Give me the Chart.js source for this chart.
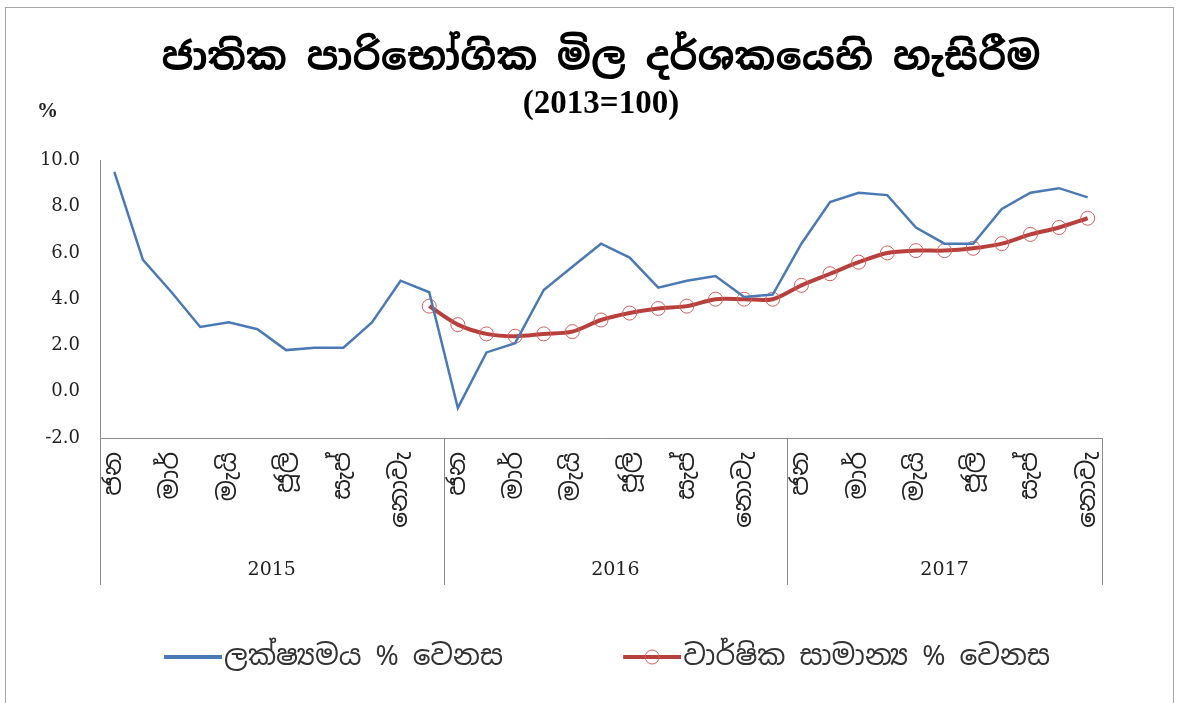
<!DOCTYPE html>
<html>
<head>
<meta charset="utf-8">
<script src="https://cdn.jsdelivr.net/npm/chart.js@4.4.1/dist/chart.umd.min.js"></script>
<style>
    html, body { margin: 0; padding: 0; background: #fff; }
    #wrap { position: relative; width: 1183px; height: 703px; }
</style>
</head>
<body>
<div id="wrap"><canvas id="ccpiChart"></canvas></div>
<script>
// Jan 2015 - Nov 2017
const months = [
    "ජන", "පෙබ", "මාර්", "අප්‍රේ", "මැයි", "ජූනි", "ජූලි", "අගෝ", "සැප්", "ඔක්", "නොවැ", "දෙසැ",
    "ජන", "පෙබ", "මාර්", "අප්‍රේ", "මැයි", "ජූනි", "ජූලි", "අගෝ", "සැප්", "ඔක්", "නොවැ", "දෙසැ",
    "ජන", "පෙබ", "මාර්", "අප්‍රේ", "මැයි", "ජූනි", "ජූලි", "අගෝ", "සැප්", "ඔක්", "නොවැ"
];
const years = ["2015", "2016", "2017"];
const monthsPerYear = [12, 12, 11];

const pointChange = [
    9.5, 5.7, 4.3, 2.8, 3.0, 2.7, 1.8, 1.9, 1.9, 3.0, 4.8, 4.3,
    -0.7, 1.7, 2.1, 4.4, 5.4, 6.4, 5.8, 4.5, 4.8, 5.0, 4.1, 4.2,
    6.4, 8.2, 8.6, 8.5, 7.1, 6.4, 6.4, 7.9, 8.6, 8.8, 8.4
];
const annualAverage = [
    null, null, null, null, null, null, null, null, null, null, null, 3.7,
    2.9, 2.5, 2.4, 2.5, 2.6, 3.1, 3.4, 3.6, 3.7, 4.0, 4.0, 4.0,
    4.6, 5.1, 5.6, 6.0, 6.1, 6.1, 6.2, 6.4, 6.8, 7.1, 7.5
];

const seriesNames = ["ලක්ෂ්‍යමය % වෙනස", "වාර්ෂික සාමාන්‍ය % වෙනස"];
const titleText = "ජාතික පාරිභෝගික මිල දර්ශකයෙහි හැසිරීම";
const subtitleText = "(2013=100)";

const sinhala = "'Noto Sans Sinhala', 'Iskoola Pota', 'Noto Sans', sans-serif";
const serif = "'Liberation Serif', 'Times New Roman', serif";
const wideSerif = "'DejaVu Serif', 'Liberation Serif', serif";

// =========================
// FRAME
// =========================
const framePlugin = {
    id: "frame",
    beforeDraw(chart) {
        const ctx = chart.ctx;
        ctx.save();
        ctx.fillStyle = "#fff";
        ctx.fillRect(0, 0, chart.width, chart.height);
        ctx.strokeStyle = "#a6a6a6";
        ctx.lineWidth = 1;
        ctx.strokeRect(5.5, 7.5, 1168, 710);
        ctx.restore();
    },
    afterDraw(chart) {
        const ctx = chart.ctx;
        ctx.save();
        ctx.fillStyle = "#222";
        ctx.font = "bold 21px " + serif;
        ctx.textAlign = "left";
        ctx.textBaseline = "middle";
        ctx.fillText("%", 37, 112);
        ctx.restore();
    }
};

// =========================
// YEARS UNDER THE MONTHS
// =========================
const yearAxisPlugin = {
    id: "yearAxis",
    afterDraw(chart) {
        const ctx = chart.ctx;
        const x = chart.scales.x;
        const top = chart.chartArea.bottom;
        const bottom = x.bottom;

        const edges = [chart.chartArea.left];
        let idx = 0;
        monthsPerYear.forEach((n, i) => {
            idx += n;
            if (i < monthsPerYear.length - 1)
                edges.push((x.getPixelForValue(idx - 1) + x.getPixelForValue(idx)) / 2);
        });
        edges.push(chart.chartArea.right);

        ctx.save();
        ctx.strokeStyle = "#8c8c8c";
        ctx.lineWidth = 1;
        edges.forEach(e => {
            ctx.beginPath();
            ctx.moveTo(Math.round(e) + 0.5, top);
            ctx.lineTo(Math.round(e) + 0.5, bottom);
            ctx.stroke();
        });

        ctx.fillStyle = "#222";
        ctx.font = "19px " + wideSerif;
        ctx.textAlign = "center";
        ctx.textBaseline = "middle";
        years.forEach((y, i) => {
            ctx.fillText(y, (edges[i] + edges[i + 1]) / 2, bottom - 15);
        });
        ctx.restore();
    }
};

// =========================
// LEGEND
// =========================
const legendPlugin = {
    id: "lineLegend",
    afterDraw(chart) {
        const ctx = chart.ctx;
        const y = 657;
        const sample = 58;
        const gap = 120;
        ctx.save();
        ctx.font = "28px " + sinhala;
        const widths = chart.data.datasets.map(d => sample + 2 + ctx.measureText(d.label).width);
        const total = widths.reduce((a, b) => a + b, 0) + gap * (widths.length - 1);
        let start = 607 - total / 2;

        chart.data.datasets.forEach((d, i) => {
            ctx.strokeStyle = d.borderColor;
            ctx.lineWidth = 4;
            ctx.beginPath();
            ctx.moveTo(start, y);
            ctx.lineTo(start + sample, y);
            ctx.stroke();
            if (d.pointRadius > 0) {
                ctx.strokeStyle = d.pointBorderColor;
                ctx.lineWidth = 1;
                ctx.beginPath();
                ctx.arc(start + sample / 2, y, d.pointRadius, 0, Math.PI * 2);
                ctx.stroke();
            }
            ctx.fillStyle = "#333";
            ctx.textAlign = "left";
            ctx.textBaseline = "middle";
            ctx.fillText(d.label, start + sample + 2, y);
            start += widths[i] + gap;
        });
        ctx.restore();
    }
};

new Chart(document.getElementById("ccpiChart"), {
    type: "line",
    data: {
        labels: months,
        datasets: [{
            label: seriesNames[0],
            data: pointChange,
            borderColor: "#4a7ab5",
            borderWidth: 2.5,
            pointRadius: 0,
            tension: 0
        }, {
            label: seriesNames[1],
            data: annualAverage,
            borderColor: "#b8403c",
            borderWidth: 4,
            pointRadius: 7,
            pointBorderColor: "#d0605c",
            pointBorderWidth: 1,
            pointBackgroundColor: "rgba(0,0,0,0)",
            tension: 0.3
        }]
    },
    options: {
        responsive: true,
        maintainAspectRatio: false,
        animation: false,
        layout: { padding: { left: 10, right: 81, top: 8, bottom: 118 } },
        plugins: {
            legend: { display: false },
            tooltip: { enabled: false },
            title: {
                display: true,
                fullSize: false,
                text: titleText,
                color: "#000",
                font: { family: sinhala, size: 39, weight: "bold" },
                padding: { top: 28, bottom: 2 }
            },
            subtitle: {
                display: true,
                fullSize: false,
                text: subtitleText,
                color: "#000",
                font: { family: serif, size: 33, weight: "bold" },
                padding: { top: 0, bottom: 36 }
            }
        },
        scales: {
            x: {
                offset: true,
                grid: { display: false, offset: true },
                border: { display: true, color: "#8c8c8c" },
                ticks: {
                    autoSkip: false,
                    minRotation: 90,
                    maxRotation: 90,
                    padding: 6,
                    color: "#222",
                    font: { family: sinhala, size: 25 },
                    callback: (v, i) => i % 2 === 0 ? months[i] : ""
                },
                afterFit: s => { s.height = 147; }
            },
            y: {
                min: -2,
                max: 10,
                grid: { display: false, drawTicks: false },
                border: { display: true, color: "#8c8c8c" },
                ticks: {
                    stepSize: 2,
                    padding: 20,
                    color: "#222",
                    font: { family: wideSerif, size: 18 },
                    callback: v => v.toFixed(1)
                },
                afterFit: s => { s.width = 90; }
            }
        }
    },
    plugins: [framePlugin, yearAxisPlugin, legendPlugin]
});
</script>
</body>
</html>
